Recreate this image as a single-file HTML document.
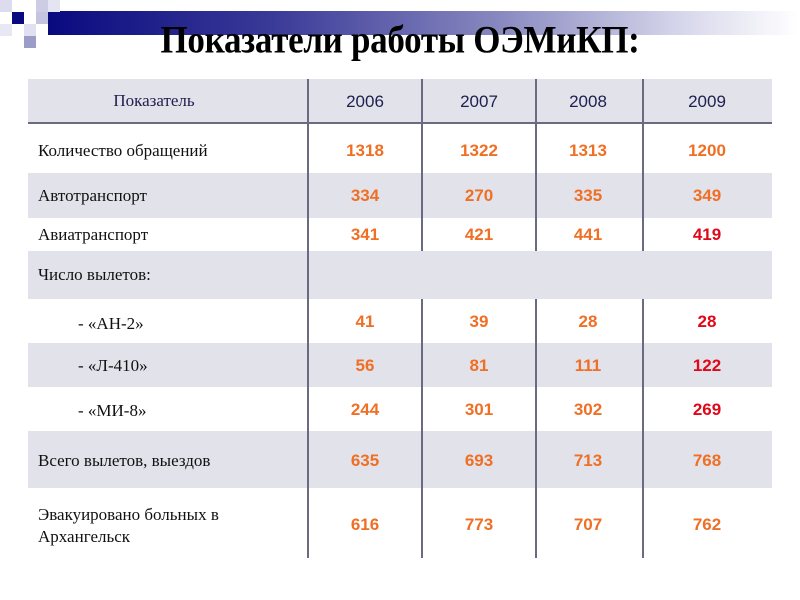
<!DOCTYPE html>
<html><head><meta charset="utf-8"><style>
*{margin:0;padding:0}
body{width:800px;height:600px;background:#fff;position:relative;overflow:hidden;font-family:"Liberation Serif",serif}
.sq{position:absolute;width:12px;height:12px}
#bar{position:absolute;left:48px;top:11px;width:750px;height:24px;background:linear-gradient(to right,#0a0a80 0%,#3a3a98 30%,#8888c0 60%,#d8d8ec 85%,#fff 100%)}
h1{position:absolute;left:0;width:800px;top:18px;text-align:center;font:bold 35px "Liberation Serif",serif;color:#000;letter-spacing:-0.3px;transform:scaleY(1.12);transform-origin:center top}
.row{position:absolute;left:28px;width:744px}
.sh{background:#e2e2ea}
.lab{position:absolute;left:38px;font:17px "Liberation Serif",serif;color:#111}
.n{position:absolute;width:110px;text-align:center;font:bold 17px "Liberation Sans",sans-serif;color:#ef6f25}
.r{color:#e00818}
.v{position:absolute;width:2px;background:#6a6a80}
.y{position:absolute;width:110px;text-align:center;font:17px "Liberation Sans",sans-serif;color:#202050;top:92px}
</style></head><body>
<div id="bar"></div>
<div class="sq" style="left:12px;top:12px;background:#0a0a80"></div>
<div class="sq" style="left:0;top:0;background:#dcdcee"></div>
<div class="sq" style="left:0;top:24px;background:#e8e8f4"></div>
<div class="sq" style="left:36px;top:0;background:#ccccE4"></div>
<div class="sq" style="left:48px;top:0;background:#e4e4f2"></div>
<div class="sq" style="left:36px;top:12px;background:#c4c4e0"></div>
<div class="sq" style="left:24px;top:24px;background:#e0e0f0"></div>
<div class="sq" style="left:24px;top:36px;background:#9c9cc8"></div>
<h1>Показатели работы ОЭМиКП:</h1>

<div class="row sh" style="top:79px;height:44px"></div>
<div class="row" style="top:122px;height:2px;background:#6a6a80"></div>
<div class="row sh" style="top:173px;height:45px"></div>
<div class="row sh" style="top:251px;height:48px"></div>
<div class="row sh" style="top:343px;height:44px"></div>
<div class="row sh" style="top:431px;height:57px"></div>

<div class="v" style="left:307px;top:79px;height:479px"></div>
<div class="v" style="left:421px;top:79px;height:172px"></div>
<div class="v" style="left:535px;top:79px;height:172px"></div>
<div class="v" style="left:642px;top:79px;height:172px"></div>
<div class="v" style="left:421px;top:299px;height:259px"></div>
<div class="v" style="left:535px;top:299px;height:259px"></div>
<div class="v" style="left:642px;top:299px;height:259px"></div>

<div class="lab" style="left:0;width:308px;text-align:center;top:91px;color:#202050">Показатель</div>
<div class="y" style="left:310px">2006</div>
<div class="y" style="left:424px">2007</div>
<div class="y" style="left:533px">2008</div>
<div class="y" style="left:652px">2009</div>

<div class="lab" style="top:141px">Количество обращений</div>
<div class="lab" style="top:186px">Автотранспорт</div>
<div class="lab" style="top:225px">Авиатранспорт</div>
<div class="lab" style="top:265px">Число вылетов:</div>
<div class="lab" style="top:314px;left:78px">- «АН-2»</div>
<div class="lab" style="top:356px;left:78px">- «Л-410»</div>
<div class="lab" style="top:401px;left:78px">- «МИ-8»</div>
<div class="lab" style="top:451px">Всего вылетов, выездов</div>
<div class="lab" style="top:504px;line-height:22px">Эвакуировано больных в<br>Архангельск</div>

<div style="position:absolute;left:0;top:0">
<div class="n" style="left:310px;top:141px">1318</div><div class="n" style="left:424px;top:141px">1322</div><div class="n" style="left:533px;top:141px">1313</div><div class="n" style="left:652px;top:141px">1200</div>
<div class="n" style="left:310px;top:186px">334</div><div class="n" style="left:424px;top:186px">270</div><div class="n" style="left:533px;top:186px">335</div><div class="n" style="left:652px;top:186px">349</div>
<div class="n" style="left:310px;top:225px">341</div><div class="n" style="left:424px;top:225px">421</div><div class="n" style="left:533px;top:225px">441</div><div class="n r" style="left:652px;top:225px">419</div>
<div class="n" style="left:310px;top:312px">41</div><div class="n" style="left:424px;top:312px">39</div><div class="n" style="left:533px;top:312px">28</div><div class="n r" style="left:652px;top:312px">28</div>
<div class="n" style="left:310px;top:356px">56</div><div class="n" style="left:424px;top:356px">81</div><div class="n" style="left:533px;top:356px">111</div><div class="n r" style="left:652px;top:356px">122</div>
<div class="n" style="left:310px;top:400px">244</div><div class="n" style="left:424px;top:400px">301</div><div class="n" style="left:533px;top:400px">302</div><div class="n r" style="left:652px;top:400px">269</div>
<div class="n" style="left:310px;top:451px">635</div><div class="n" style="left:424px;top:451px">693</div><div class="n" style="left:533px;top:451px">713</div><div class="n" style="left:652px;top:451px">768</div>
<div class="n" style="left:310px;top:515px">616</div><div class="n" style="left:424px;top:515px">773</div><div class="n" style="left:533px;top:515px">707</div><div class="n" style="left:652px;top:515px">762</div>
</div>
</body></html>
